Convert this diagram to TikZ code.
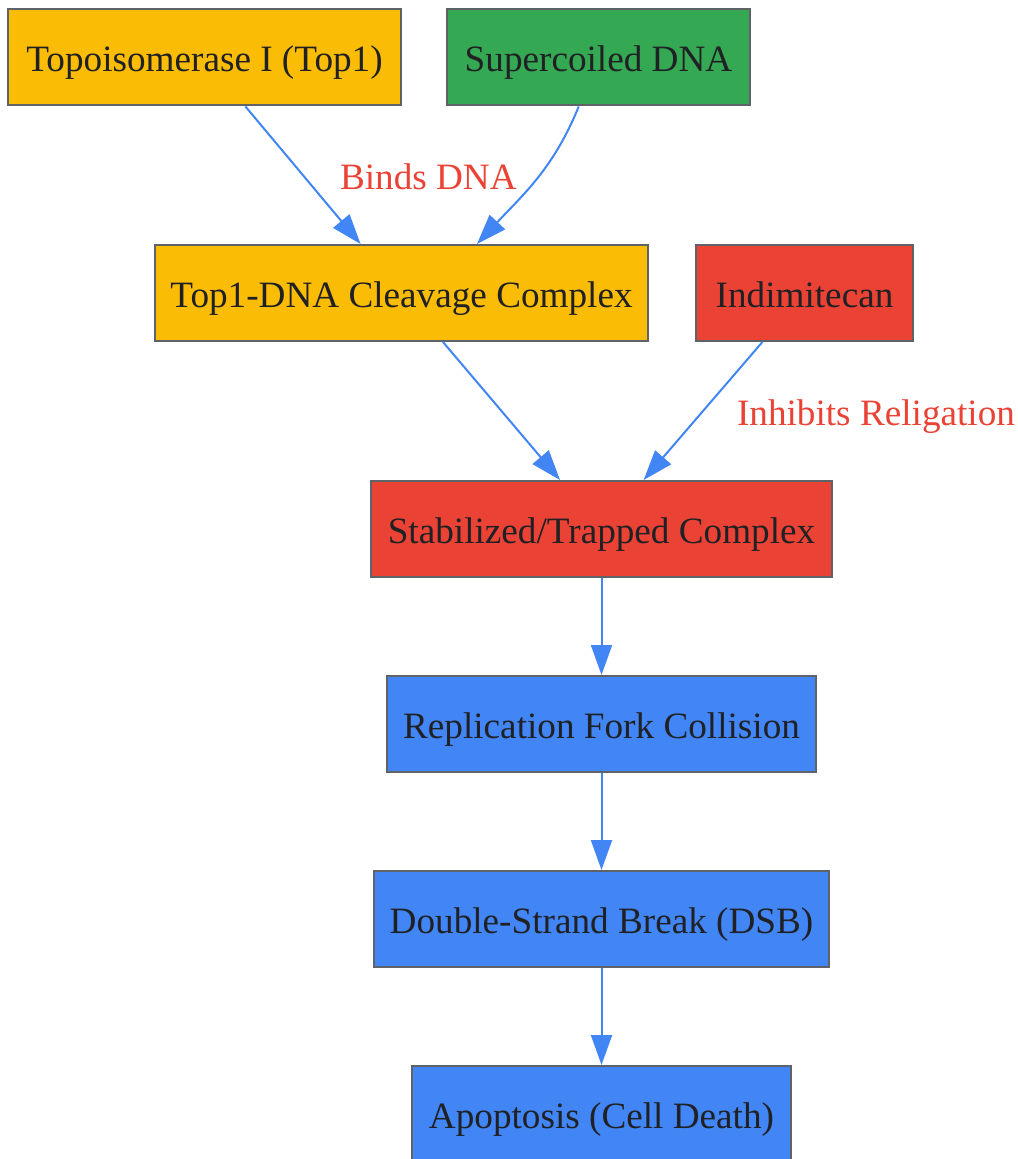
\documentclass[tikz,border=0pt]{standalone}
\usepackage{fontspec}
\setmainfont{Liberation Serif}
\usetikzlibrary{arrows.meta,positioning}
\definecolor{topyellow}{HTML}{FBBC05}
\definecolor{dnagreen}{HTML}{34A853}
\definecolor{drugred}{HTML}{EA4335}
\definecolor{pathblue}{HTML}{4285F4}
\definecolor{edgegray}{HTML}{5F6368}
\definecolor{inkdark}{HTML}{202124}

\begin{document}
\begin{tikzpicture}[x=0.5pt,y=-0.5pt,
	box/.style={draw=edgegray, line width=1pt, text=inkdark, minimum height=48pt, inner xsep=2pt,
		text height=18pt, text depth=3.5pt, font=\fontsize{18.6}{22}\selectfont},
	link/.style={draw=pathblue, line width=1pt, -{Triangle[length=15pt,width=10.5pt]}},
	lbl/.style={text=drugred, inner sep=0pt, text height=18pt, text depth=3.5pt,
		font=\fontsize{18.6}{22}\selectfont}]
	%\draw[help lines] (0,0) grid (1017,1159);
	\useasboundingbox (0,0) rectangle (1017,1159);
	
	%TOP ROW
	\node[box, fill=topyellow, minimum width=196.5pt] (top1) at (204.5,57.5) {Topoisomerase I (Top1)};
	\node[box, fill=dnagreen, minimum width=151.5pt] (supdna) at (598.5,57.5) {Supercoiled DNA};
	
	%COMPLEX + DRUG
	\node[box, fill=topyellow, minimum width=246.5pt] (cleav) at (401.5,293) {Top1-DNA Cleavage Complex};
	\node[box, fill=drugred, minimum width=108.5pt] (indi) at (804.5,293) {Indimitecan};
	
	%CASCADE
	\node[box, fill=drugred, minimum width=230.5pt] (trap) at (601.5,529) {Stabilized/Trapped Complex};
	\node[box, fill=pathblue, minimum width=214.5pt] (fork) at (601.5,724) {Replication Fork Collision};
	\node[box, fill=pathblue, minimum width=227.5pt] (dsb) at (601.5,919) {Double-Strand Break (DSB)};
	\node[box, fill=pathblue, minimum width=189.5pt] (apop) at (601.5,1114) {Apoptosis (Cell Death)};
	
	%EDGES
	\draw[link] (top1) -- node[lbl, midway, right=18pt] {Binds DNA} (cleav);
	\draw[link] (supdna.248.7) to[out=-112, in=47] (cleav.33.9);
	\draw[link] (cleav) -- (trap);
	\draw[link] (indi) -- node[lbl, midway, right=16.5pt] {Inhibits Religation} (trap);
	\draw[link] (trap) -- (fork);
	\draw[link] (fork) -- (dsb);
	\draw[link] (dsb) -- (apop);
\end{tikzpicture}
\end{document}
